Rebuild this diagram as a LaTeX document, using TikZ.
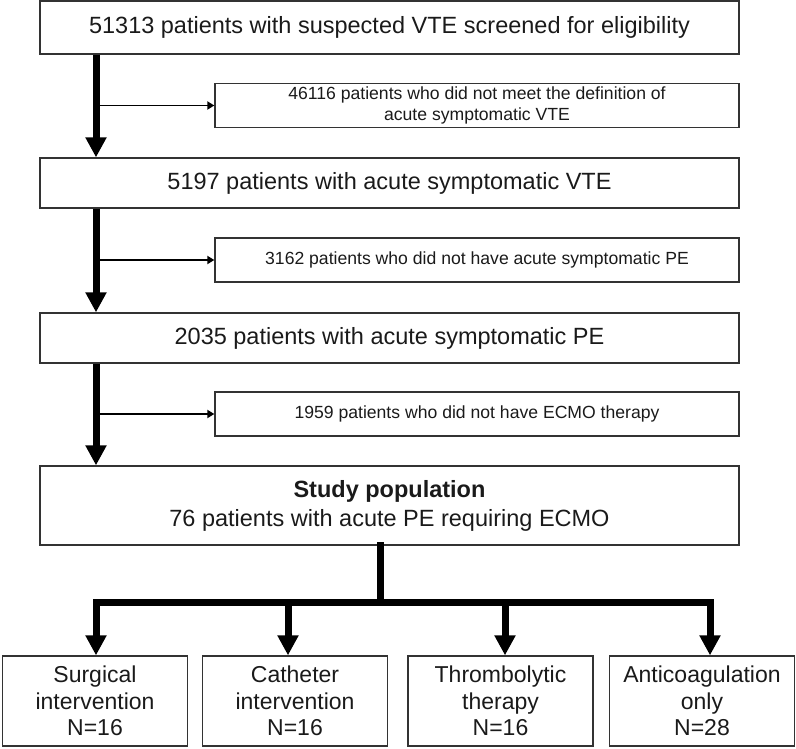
\documentclass[tikz,border=0pt]{standalone}
\usepackage{fontspec}
\setmainfont{Liberation Sans}
\usetikzlibrary{arrows.meta}

\definecolor{boxline}{HTML}{333333}
\definecolor{inktext}{HTML}{1A1A1A}

\begin{document}
\begin{tikzpicture}[x=1pt, y=-1pt,
		mainbox/.style={draw=boxline, line width=1.3, inner sep=0, minimum width=699, text=inktext, font=\fontsize{23.5}{29}\selectfont, align=center},
		exclbox/.style={draw=boxline, line width=1.3, inner sep=0, minimum width=524, minimum height=44, text=inktext, font=\fontsize{17.6}{20.5}\selectfont, align=center},
		armbox/.style={draw=boxline, line width=1.3, inner sep=0, minimum width=185, minimum height=90, text=inktext, font=\fontsize{23}{26.5}\selectfont, align=center},
		fatarrow/.style={line width=7, -{Triangle[width=20pt, length=20pt]}},
		fatline/.style={line width=7, line cap=rect},
		thinarrow/.style={line width=1.8, -{Triangle[width=8pt, length=7pt]}}]
		\useasboundingbox (0, 0) rectangle (796, 748);

		\node[mainbox, minimum height=53] (screen) at (389.5, 27.5) {51313 patients with suspected VTE screened for eligibility};
		\node[exclbox] (nodef) at (477, 105.5) {46116 patients who did not meet the definition of\\acute symptomatic VTE};
		\node[mainbox, minimum height=50] (vte) at (389.5, 183) {5197 patients with acute symptomatic VTE};
		\node[exclbox] (nope) at (477, 260) {3162 patients who did not have acute symptomatic PE};
		\node[mainbox, minimum height=50] (pe) at (389.5, 338) {2035 patients with acute symptomatic PE};
		\node[exclbox] (noecmo) at (477, 414) {1959 patients who did not have ECMO therapy};
		\node[mainbox, minimum height=79] (study) at (389.5, 505.5) {\textbf{Study population}\\76 patients with acute PE requiring ECMO};

		\node[armbox] (surg) at (95, 701) {Surgical\\intervention\\N=16};
		\node[armbox] (cath) at (295, 701) {Catheter\\intervention\\N=16};
		\node[armbox] (lysis) at (500.5, 701) {Thrombolytic\\therapy\\N=16};
		\node[armbox] (anticoag) at (702, 701) {Anticoagulation\\only\\N=28};

		% main column
		\coordinate (spine) at (96, 0);
		\draw[fatarrow] (screen.south -| spine) -- (vte.north -| spine);
		\draw[fatarrow] (vte.south -| spine) -- (pe.north -| spine);
		\draw[fatarrow] (pe.south -| spine) -- (study.north -| spine);

		% exclusions
		\draw[thinarrow] (spine |- nodef.west) -- (nodef.west);
		\draw[thinarrow] (spine |- nope.west) -- (nope.west);
		\draw[thinarrow] (spine |- noecmo.west) -- (noecmo.west);

		% split into the four arms
		\coordinate (split) at (380, 602);
		\coordinate (b1) at (96, 602);
		\coordinate (b2) at (288, 602);
		\coordinate (b3) at (505, 602);
		\coordinate (b4) at (710, 602);
		\draw[fatline] (study.south -| split) -- (split);
		\draw[fatline] (b1) -- (b4);
		\draw[fatarrow] (b1) -- (b1 |- surg.north);
		\draw[fatarrow] (b2) -- (b2 |- cath.north);
		\draw[fatarrow] (b3) -- (b3 |- lysis.north);
		\draw[fatarrow] (b4) -- (b4 |- anticoag.north);
	\end{tikzpicture}
\end{document}
